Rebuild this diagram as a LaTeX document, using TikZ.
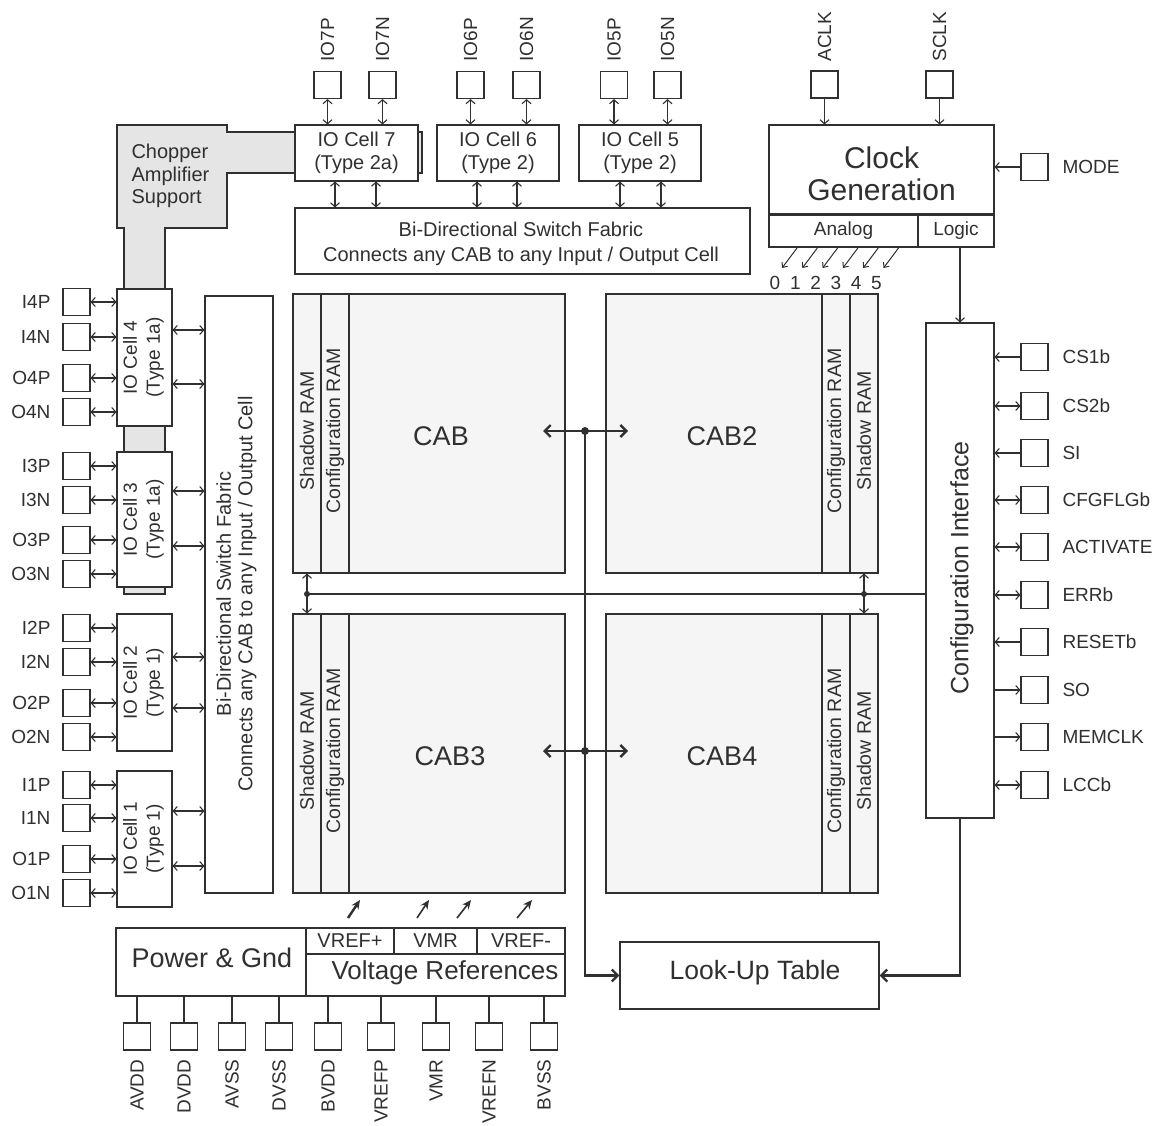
\documentclass[tikz,border=0pt]{standalone}
\usepackage{fontspec}
\setmainfont{Liberation Sans}
\usetikzlibrary{arrows.meta,calc}
\definecolor{lc}{HTML}{303030}
\definecolor{cabfill}{HTML}{F4F5F4}
\definecolor{chop}{HTML}{E4E5E4}
\begin{document}
\begin{tikzpicture}[x=1pt,y=-1pt,line width=1.1pt,color=lc,
  >={Straight Barb[length=4pt,width=9pt]},
  blk/.style={draw=lc,fill=white,inner sep=0pt,line width=1.1pt},
  cabbox/.style={blk,fill=cabfill},
  pad/.style={blk,minimum width=27pt,minimum height=27pt},
  lbl/.style={inner sep=0pt,font=\fontsize{19}{22}\selectfont},
  ramlbl/.style={inner sep=0pt,rotate=90,font=\fontsize{19.5}{22}\selectfont},
  thk/.style={line width=2.4pt,>={Straight Barb[length=6pt,width=12pt]}},
]
\useasboundingbox (0,0) rectangle (1161,1126);
\fill[white] (0,0) rectangle (1161,1126);

% chopper amplifier support
\draw[fill=chop] (117,125) -- (227,125) -- (227,132) -- (422,132) -- (422,173) -- (227,173)
  -- (227,228) -- (165,228) -- (165,594) -- (124,594) -- (124,228) -- (117,228) -- cycle;
\node[anchor=west,align=left,inner sep=0pt,font=\fontsize{20}{22.5}\selectfont] (chopt) at (131,176) {Chopper\\Amplifier\\Support};

% top IO cells
\node[blk,minimum width=123pt,minimum height=56pt,align=center,font=\fontsize{20}{23}\selectfont] (io7) at (356.5,153) {IO Cell 7\\(Type 2a)};
\node[blk,minimum width=122pt,minimum height=56pt,align=center,font=\fontsize{20}{23}\selectfont] (io6) at (498,153) {IO Cell 6\\(Type 2)};
\node[blk,minimum width=122pt,minimum height=56pt,align=center,font=\fontsize{20}{23}\selectfont] (io5) at (640,153) {IO Cell 5\\(Type 2)};

\foreach \n/\x/\c in {IO7P/327.5/io7,IO7N/382.5/io7,IO6P/470.5/io6,IO6N/526.5/io6,IO5P/614/io5,IO5N/667.5/io5}{
  \node[pad] (p\n) at (\x,85) {};
  \node[lbl,rotate=90,anchor=west] (t\n) at (\x,62) {\n};
  \draw[<->] (p\n.south) -- (p\n.south |- \c.north);
}

% top switch fabric
\node[blk,minimum width=455pt,minimum height=66pt] (topsw) at (522.5,241) {};
\node[align=center,inner sep=0pt,font=\fontsize{20}{25}\selectfont] (topswt) at (521,243.5) {Bi-Directional Switch Fabric\\Connects any CAB to any Input / Output Cell};
\foreach \x/\c in {335/io7,376/io7,477/io6,517/io6,620/io5,661/io5}
  \draw[<->] (\c.south -| \x,0) -- (topsw.north -| \x,0);

% clock generation
\node[blk,minimum width=225pt,minimum height=89pt] (clk) at (881.5,169.5) {};
\node[inner sep=0pt,align=center,font=\fontsize{30}{32}\selectfont] (clkt) at (881.5,174) {Clock\\Generation};
\node[blk,minimum width=149pt,minimum height=33pt,font=\fontsize{19}{22}\selectfont] (analog) at (843.5,230.5) {Analog};
\node[blk,minimum width=76pt,minimum height=33pt,font=\fontsize{19}{22}\selectfont] (logic) at (956,230.5) {Logic};
\draw[line width=2.2pt] (clk.south west) -- (clk.south east);

\node[pad] (pACLK) at (824.5,84.5) {};
\node[lbl,rotate=90,anchor=west] (tACLK) at (824.5,62) {ACLK};
\node[pad] (pSCLK) at (939.5,84.5) {};
\node[lbl,rotate=90,anchor=west] (tSCLK) at (939.5,62) {SCLK};
\draw[->] (pACLK.south) -- (pACLK.south |- clk.north);
\draw[->] (pSCLK.south) -- (pSCLK.south |- clk.north);
\node[pad] (pMODE) at (1034.5,167) {};
\node[lbl,anchor=west] (tMODE) at (1062,167) {MODE};
\draw[->] (pMODE.west) -- (pMODE.west -| clk.east);

\foreach \i in {0,...,5}{
  \coordinate (as\i) at ({797+20.3*\i},248);
  \coordinate (ae\i) at ({782+20.3*\i},268);
  \draw[->,line width=1pt,>={Straight Barb[length=4pt,width=7pt]}] (as\i) -- (ae\i);
  \node[lbl] (d\i) at ({775+20.3*\i},283) {\i};
}

% configuration interface
\node[blk,minimum width=68pt,minimum height=495pt] (ci) at (960,570.5) {};
\node[rotate=90,inner sep=0pt,font=\fontsize{25}{28}\selectfont] (cit) at (962,568) {Configuration Interface};
\draw[->] (logic.south -| ci.north) -- (ci.north);

\foreach \n/\y in {CS1b/357,CS2b/406,SI/453,CFGFLGb/500,ACTIVATE/547,ERRb/595,RESETb/642,SO/690,MEMCLK/737,LCCb/785}{
  \node[pad] (p\n) at (1034.5,\y) {};
  \node[lbl,anchor=west] (t\n) at (1062,\y) {\n};
}
\draw[<-] (pCS1b.west -| ci.east) -- (pCS1b.west);
\draw[<->] (pCS2b.west -| ci.east) -- (pCS2b.west);
\draw[<-] (pSI.west -| ci.east) -- (pSI.west);
\draw[<->] (pCFGFLGb.west -| ci.east) -- (pCFGFLGb.west);
\draw[<->] (pACTIVATE.west -| ci.east) -- (pACTIVATE.west);
\draw[<->] (pERRb.west -| ci.east) -- (pERRb.west);
\draw[<-] (pRESETb.west -| ci.east) -- (pRESETb.west);
\draw[->] (pSO.west -| ci.east) -- (pSO.west);
\draw[->] (pMEMCLK.west -| ci.east) -- (pMEMCLK.west);
\draw[<->] (pLCCb.west -| ci.east) -- (pLCCb.west);

% CABs
\foreach \n/\cx/\cy/\t/\tx/\sx/\rx in {1/429/433.5/CAB/441/307/335,2/742/433.5/CAB2/722/864/836,3/429/753.5/CAB3/450/307/335,4/742/753.5/CAB4/722/864/836}{
  \node[cabbox,minimum width=272pt,minimum height=279pt] (cab\n) at (\cx,\cy) {};
  \node[cabbox,minimum width=28pt,minimum height=279pt] (sr\n) at (\sx,\cy) {};
  \node[cabbox,minimum width=28pt,minimum height=279pt] (cr\n) at (\rx,\cy) {};
  \node[ramlbl] (srt\n) at ({\sx},{\cy-2.5}) {Shadow RAM};
  \node[ramlbl] (crt\n) at ({\rx},{\cy-2.5}) {Configuration RAM};
  \node[inner sep=0pt,font=\fontsize{27}{30}\selectfont] (cabt\n) at ({\tx},{\cy+2.5}) {\t};
}

% look-up table
\node[blk,minimum width=259pt,minimum height=67pt] (lut) at (749.5,975.5) {};
\node[inner sep=0pt,font=\fontsize{26.5}{30}\selectfont] (lutt) at (755,973) {Look-Up Table};

% CAB links
\coordinate (j1) at (585,431);
\coordinate (j2) at (585,751);
\coordinate (l1a) at (543,431);
\coordinate (l1b) at (628,431);
\coordinate (l2a) at (543,751);
\coordinate (l2b) at (628,751);
\draw[thk,<->] (l1a) -- (l1b);
\draw[thk,<->] (l2a) -- (l2b);
\draw[thk,->] (j1) |- (lut.west);
\draw[thk,->] (ci.south) |- (lut.east);
\fill (j1) circle (4pt);
\fill (j2) circle (4pt);

% thin bus
\coordinate (b1) at (307,594);
\coordinate (b2) at (864,594);
\draw (b1) -- (b1 -| ci.west);
\draw[<->] (cab1.south -| b1) -- (cab3.north -| b1);
\draw[<->] (cab2.south -| b2) -- (cab4.north -| b2);
\fill (b1) circle (3pt);
\fill (b2) circle (3pt);

% left switch fabric
\node[blk,minimum width=68pt,minimum height=597pt] (lsw) at (239,594.5) {};
\node[rotate=90,align=center,inner sep=0pt,font=\fontsize{20}{21.5}\selectfont] (lswt) at (236.5,594) {Bi-Directional Switch Fabric\\Connects any CAB to any Input / Output Cell};

% left IO cells
\foreach \n/\y/\h/\t in {4/357.5/137pt/1a,3/519.5/135pt/1a,2/682.5/137pt/1,1/839/136pt/1}{
  \node[blk,minimum width=55pt,minimum height=\h] (ioc\n) at (144.5,\y) {};
  \node[rotate=90,align=center,inner sep=0pt,font=\fontsize{19}{23}\selectfont] (ioct\n) at (143.5,\y) {IO Cell \n\\(Type \t)};
}

\foreach \n/\y/\c in {I4P/302/ioc4,I4N/337/ioc4,O4P/378/ioc4,O4N/412/ioc4,I3P/466/ioc3,I3N/500/ioc3,O3P/540/ioc3,O3N/574/ioc3,I2P/628/ioc2,I2N/662/ioc2,O2P/703/ioc2,O2N/737/ioc2,I1P/785/ioc1,I1N/818/ioc1,O1P/859/ioc1,O1N/893/ioc1}{
  \node[pad] (p\n) at (76.5,\y) {};
  \node[lbl,anchor=east] (t\n) at (51,\y) {\n};
  \draw[<->] (p\n.east) -- (p\n.east -| \c.west);
}
\foreach \y/\c in {330/ioc4,384/ioc4,491/ioc3,546/ioc3,657/ioc2,708/ioc2,811/ioc1,866/ioc1}
  \draw[<->] (\c.east |- 0,\y) -- (lsw.west |- 0,\y);

% power and voltage references
\node[blk,minimum width=190pt,minimum height=68pt] (pwr) at (211,962) {};
\node[inner sep=0pt,font=\fontsize{27}{30}\selectfont] (pwrt) at (212,958) {Power \& Gnd};
\node[blk,minimum width=88pt,minimum height=26pt,font=\fontsize{20}{22}\selectfont] (vrp) at (350,941) {VREF+};
\node[blk,minimum width=83pt,minimum height=26pt,font=\fontsize{20}{22}\selectfont] (vmr) at (435.5,941) {VMR};
\node[blk,minimum width=88pt,minimum height=26pt,font=\fontsize{20}{22}\selectfont] (vrm) at (521,941) {VREF-};
\node[blk,minimum width=259pt,minimum height=42pt] (vref) at (435.5,975) {};
\node[inner sep=0pt,font=\fontsize{26}{30}\selectfont] (vreft) at (445,973) {Voltage References};

\foreach \n/\x/\b in {AVDD/137/pwr,DVDD/184/pwr,AVSS/232/pwr,DVSS/279/pwr,BVDD/328/vref,VREFP/381/vref,VMR/436/vref,VREFN/489/vref,BVSS/544/vref}{
  \node[pad] (b\n) at (\x,1036.5) {};
  \node[lbl,rotate=90,anchor=east] (bt\n) at (\x,1059) {\n};
  \draw (b\n.north) -- (b\n.north |- \b.south);
}

\foreach \i/\sx/\ex/\w in {1/348/360/2.4,2/417/429/1.6,3/457/471/1.6,4/517/532/1.6}{
  \coordinate (vs\i) at (\sx,918);
  \coordinate (ve\i) at (\ex,900);
  \draw[line width=\w pt,-{Stealth[length=9pt,width=8pt]}] (vs\i) -- (ve\i);
}
\end{tikzpicture}
\end{document}
